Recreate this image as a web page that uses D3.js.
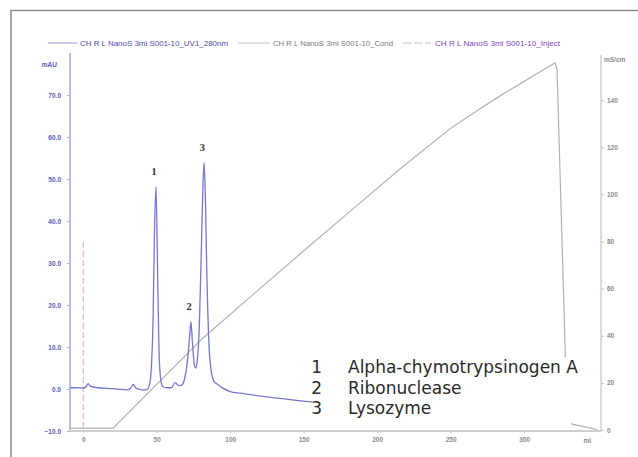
<!DOCTYPE html>
<html>
<head>
<meta charset="utf-8">
<script src="https://cdn.jsdelivr.net/npm/d3@7"></script>
<style>
  body { margin: 0; background: #fff; }
  svg { display: block; }
</style>
</head>
<body>
<svg id="chart" width="638" height="457"></svg>
<script>
// x in ml, UV trace in mAU, conductivity in mS/cm
const uvMl  = [-9, -5, 0, 2, 3.4, 5, 10, 20, 30, 32.5, 34, 36, 40, 43, 45, 46.5, 47.5, 48.5, 49.5, 50.5, 51.5, 52.5, 54, 57, 60, 62.5, 65, 67, 69, 71, 72.5, 73.3, 74.3, 75.5, 76.5, 77.5, 79, 80.5, 81.5, 82.3, 83.2, 84.2, 85.5, 87, 89, 91, 95, 100, 107, 115, 125, 135, 145, 156];
const uvMau = [0.3, 0.3, 0.2, 0.6, 1.3, 0.6, 0.3, 0.1, -0.2, 0.3, 1.1, 0.2, -0.2, -0.2, 0.8, 6, 16, 38, 48.2, 30, 10, 3, 0.6, 0.3, 0.3, 1.5, 0.8, 0.9, 2.5, 7, 13, 16, 11, 6, 5, 6.5, 15, 35, 49, 53.9, 44, 26, 11, 4.5, 1.8, 1.2, 0.2, -0.6, -1.0, -1.4, -1.9, -2.3, -2.7, -3.1];

const condMl  = [-9, 20.3, 50.2, 80.8, 113.5, 147.5, 181.5, 215.5, 249.5, 266.6, 283.6, 297.2, 310.8, 317.6, 321, 322.4, 329.2, 332.6, 349.6];
const condVal = [0.8, 0.8, 19.5, 38.6, 56.4, 74.7, 92.8, 110.8, 127.8, 135.0, 141.8, 146.9, 152.0, 154.6, 155.8, 152.8, 6.4, 2.5, 0.2];

const injectMl = 0, injectHeight = 35;

const peakMl = [49.5, 73.3, 82.3];
const peakMau = [48.2, 16, 53.9];
const peakLabels = ["1", "2", "3"];
const proteinNames = ["Alpha-chymotrypsinogen A", "Ribonuclease", "Lysozyme"];

const mlTicks = [0, 50, 100, 150, 200, 250, 300];
const mauTicks = [-10, 0, 10, 20, 30, 40, 50, 60, 70];
const condTicks = [0, 20, 40, 60, 80, 100, 120, 140];

const legendNames = ["CH R L NanoS 3ml S001-10_UV1_280nm", "CH R L NanoS 3ml S001-10_Cond", "CH R L NanoS 3ml S001-10_Inject"];

const svg = d3.select("#chart");
const small = "Liberation Sans, Arial, sans-serif";

const x = d3.scaleLinear().domain([-9, 352.3]).range([70, 601]);
const yL = d3.scaleLinear().domain([-10, 80]).range([431, 53]);
const yR = d3.scaleLinear().domain([0, 160]).range([430, 53]);

// outer frame (top + left only)
svg.append("path").attr("d", "M11,457V10.5H638")
  .attr("fill", "none").attr("stroke", "#8a8a8a").attr("stroke-width", 1.5);

// legend
const legX = [[48, 77, 80, 148], [238, 270, 273, 120], [403, 431, 435, 125]];
const legLine = ["#a9a9d9", "#cfcac4", "#cdb5e2"];
const legText = ["#4b4bae", "#7a7a7a", "#7a45c4"];
legendNames.forEach((n, i) => {
  const p = legX[i];
  svg.append("line").attr("x1", p[0]).attr("x2", p[1]).attr("y1", 43).attr("y2", 43)
    .attr("stroke", legLine[i]).attr("stroke-width", 1.2)
    .attr("stroke-dasharray", i === 2 ? "9,2" : null);
  svg.append("text").attr("x", p[2]).attr("y", 45.5).text(n)
    .attr("font-family", small).attr("font-size", 7)
    .attr("textLength", p[3]).attr("lengthAdjust", "spacingAndGlyphs")
    .attr("fill", legText[i]);
});

function styleTicks(ax, col) {
  ax.selectAll("text").attr("fill", col).attr("font-size", 6.5).attr("font-weight", "bold")
    .attr("font-family", small);
}

// left axis (mAU)
const axL = svg.append("g").attr("transform", "translate(70,0)")
  .call(d3.axisLeft(yL).tickValues(mauTicks).tickFormat(d3.format(".1f")).tickSize(3).tickPadding(6));
axL.select(".domain").attr("stroke", "#8f8fd8").attr("stroke-width", 1.2).attr("d", "M0,53V432");
axL.selectAll(".tick line").attr("stroke", "#b0b0e0");
styleTicks(axL, "#5a5ab8");
svg.append("text").attr("x", 57).attr("y", 67).attr("text-anchor", "end").text("mAU")
  .attr("fill", "#5a5ab8").attr("font-size", 6.5).attr("font-weight", "bold").attr("font-family", small);

// right axis (mS/cm)
const axR = svg.append("g").attr("transform", "translate(601,0)")
  .call(d3.axisRight(yR).tickValues(condTicks).tickSize(3).tickPadding(3));
axR.select(".domain").attr("stroke", "#c4c4c4").attr("stroke-width", 1.2).attr("d", "M0,55V431");
axR.selectAll(".tick line").attr("stroke", "#c4c4c4");
styleTicks(axR, "#8a8a8a");
svg.append("text").attr("x", 604).attr("y", 62).text("mS/cm")
  .attr("fill", "#8a8a8a").attr("font-size", 6.5).attr("font-weight", "bold").attr("font-family", small);

// bottom axis (ml)
const axB = svg.append("g").attr("transform", "translate(0,431)")
  .call(d3.axisBottom(x).tickValues(mlTicks).tickSize(2).tickPadding(4));
axB.select(".domain").attr("stroke", "#cfcfcf").attr("stroke-width", 2).attr("d", "M70,0H601");
axB.selectAll(".tick line").attr("stroke", "#bbb");
styleTicks(axB, "#8a8a8a");
svg.append("text").attr("x", x(343)).attr("y", 443).attr("text-anchor", "middle").text("ml")
  .attr("fill", "#8a8a8a").attr("font-size", 6.5).attr("font-weight", "bold").attr("font-family", small);

// inject marker
svg.append("line").attr("x1", x(injectMl)).attr("x2", x(injectMl))
  .attr("y1", yL(injectHeight)).attr("y2", 431)
  .attr("stroke", "#d6a6d2").attr("stroke-width", 1).attr("stroke-dasharray", "6,3");

// conductivity
const condData = condMl.map((m, i) => [m, condVal[i]]);
svg.append("path").datum(condData)
  .attr("d", d3.line().x(d => x(d[0])).y(d => yR(d[1])))
  .attr("fill", "none").attr("stroke", "#b8b0a8").attr("stroke-width", 1.2);

// UV 280nm
const uvData = uvMl.map((m, i) => [m, uvMau[i]]);
svg.append("path").datum(uvData)
  .attr("d", d3.line().x(d => x(d[0])).y(d => yL(d[1])).curve(d3.curveMonotoneX))
  .attr("fill", "none").attr("stroke", "#7676d4").attr("stroke-width", 1.3);

// peak numbers
peakLabels.forEach((l, i) => {
  svg.append("text").attr("x", x(peakMl[i]) - 2).attr("y", yL(peakMau[i]) - 12)
    .attr("text-anchor", "middle").text(l)
    .attr("font-family", "Liberation Serif, serif").attr("font-weight", "bold")
    .attr("font-size", 11).attr("fill", "#3a3a3a");
});

// key box
svg.append("rect").attr("x", 313).attr("y", 357).attr("width", 285).attr("height", 66).attr("fill", "#fff");
proteinNames.forEach((n, i) => {
  const yy = 373 + i * 20.5;
  svg.append("text").attr("x", 322).attr("y", yy).attr("text-anchor", "end").text(peakLabels[i])
    .attr("font-family", "DejaVu Sans, sans-serif").attr("font-size", 17).attr("fill", "#2a2a2a");
  svg.append("text").attr("x", 348).attr("y", yy).text(n)
    .attr("font-family", "DejaVu Sans, sans-serif").attr("font-size", 17).attr("fill", "#2a2a2a");
});
</script>
</body>
</html>
